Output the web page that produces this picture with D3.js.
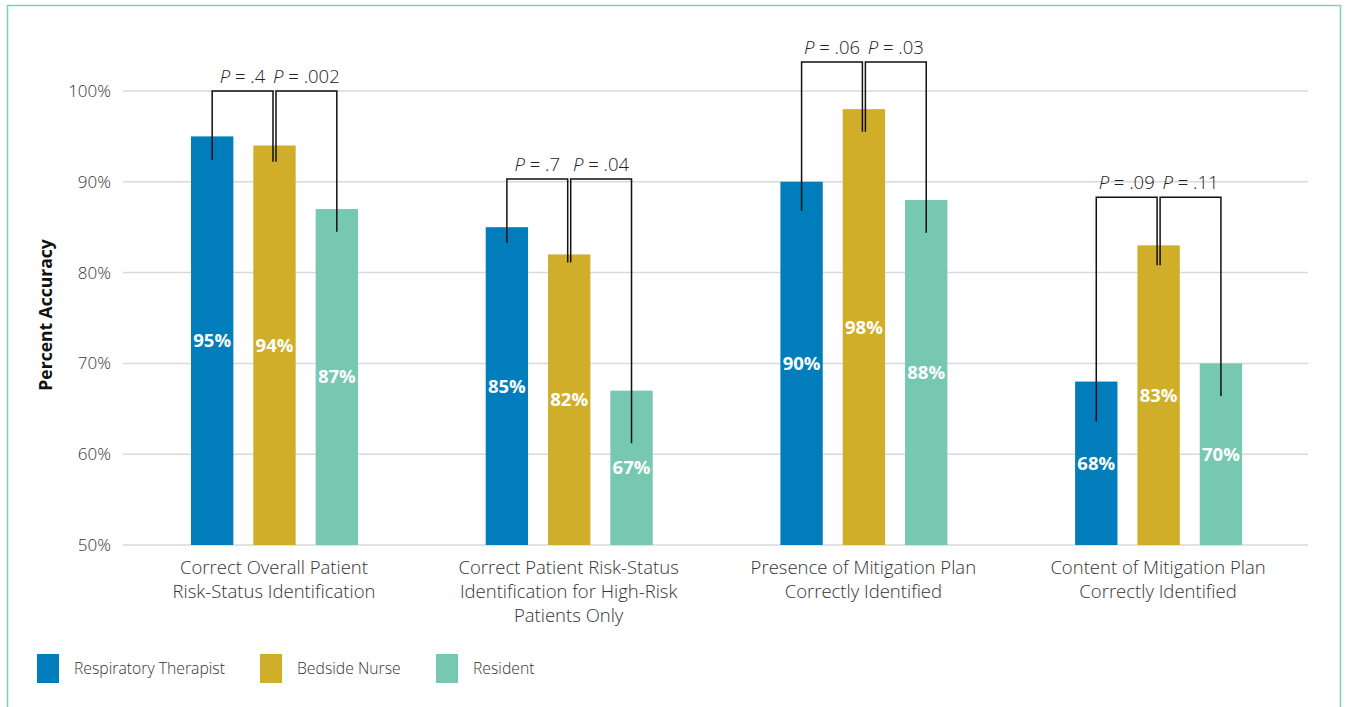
<!DOCTYPE html>
<html>
<head>
<meta charset="utf-8">
<script src="https://cdn.jsdelivr.net/npm/d3@7"></script>
<style>
  html, body { margin: 0; padding: 0; background: #fff; }
  svg { display: block; font-family: "Open Sans", "Noto Sans", sans-serif; }
</style>
</head>
<body>
<svg id="chart" width="1346" height="707"></svg>
<script>
// ---- data ----
const categories = [
  ["Correct Overall Patient", "Risk-Status Identification"],
  ["Correct Patient Risk-Status", "Identification for High-Risk", "Patients Only"],
  ["Presence of Mitigation Plan", "Correctly Identified"],
  ["Content of Mitigation Plan", "Correctly Identified"]
];
const seriesNames = ["Respiratory Therapist", "Bedside Nurse", "Resident"];
const respiratoryTherapist = [95, 85, 90, 68];
const bedsideNurse = [94, 82, 98, 83];
const resident = [87, 67, 88, 70];
const yTicks = [50, 60, 70, 80, 90, 100];
// P-value brackets: first compares RT vs Nurse, second Nurse vs Resident
const pFirst = [".4", ".7", ".06", ".09"];
const pSecond = [".002", ".04", ".03", ".11"];
const bracketTop = [100, 90.3, 103.2, 88.3];
const firstLegEnds = [[92.4, 92.2], [83.3, 81.1], [86.8, 95.5], [63.6, 80.8]];
const secondLegEnds = [[92.2, 84.5], [81.1, 61.2], [95.5, 84.4], [80.8, 66.4]];

const colors = ["#007dba", "#d1ae2a", "#76c8b0"];
const seriesValues = [respiratoryTherapist, bedsideNurse, resident];

const svg = d3.select("#chart");
const plotLeft = 123, plotRight = 1308, plotTop = 91, plotBottom = 545;
const FONT = "'Open Sans', 'Noto Sans', sans-serif";

// frame border
svg.append("path")
  .attr("d", `M7.5,720 V5.5 H1340.5 V720`)
  .attr("fill", "none").attr("stroke", "#7fd0b9").attr("stroke-width", 1.5);

const x0 = d3.scaleBand().domain(d3.range(categories.length)).range([126.6, 1305.4]).padding(0);
const x1 = d3.scaleBand().domain(d3.range(seriesNames.length))
  .range([64.4, 231.4]).paddingInner(20 / 62.4).paddingOuter(0);
const y = d3.scaleLinear().domain([50, 100]).range([plotBottom, plotTop]);

// grid lines
svg.append("g").selectAll("line").data(yTicks).join("line")
  .attr("x1", plotLeft).attr("x2", plotRight)
  .attr("y1", d => y(d)).attr("y2", d => y(d))
  .attr("stroke", "#d9d9d9").attr("stroke-width", 1.5);

// y axis labels
const yAxis = svg.append("g").attr("transform", `translate(${plotLeft},0)`)
  .call(d3.axisLeft(y).tickValues(yTicks).tickSize(0).tickPadding(12).tickFormat(d => d + "%"));
yAxis.select(".domain").remove();
yAxis.selectAll("text").attr("font-size", 17).attr("fill", "#333").attr("font-family", FONT).attr("font-weight", 300);

// y title
svg.append("text")
  .attr("transform", `translate(52,315) rotate(-90)`)
  .attr("text-anchor", "middle")
  .attr("font-size", 17.5).attr("font-weight", 700).attr("fill", "#111")
  .text("Percent Accuracy");

// bars
const groups = svg.append("g").selectAll("g").data(categories).join("g")
  .attr("transform", (d, i) => `translate(${x0(i)},0)`);

groups.each(function(cat, i) {
  const g = d3.select(this);
  seriesValues.forEach((vals, s) => {
    const v = vals[i];
    g.append("rect")
      .attr("x", x1(s)).attr("width", x1.bandwidth())
      .attr("y", y(v)).attr("height", y(50) - y(v))
      .attr("fill", colors[s]);
  });
});

// brackets
const bracketG = svg.append("g");
categories.forEach((cat, i) => {
  const cx = s => x0(i) + x1(s) + x1.bandwidth() / 2;
  const yt = y(bracketTop[i]);
  const off = 1.5;
  const a1 = cx(0), a2 = cx(1) - off;
  const b1 = cx(1) + off, b2 = cx(2);
  bracketG.append("path")
    .attr("d", `M${a1},${y(firstLegEnds[i][0])} V${yt} H${a2} V${y(firstLegEnds[i][1])}`)
    .attr("fill", "none").attr("stroke", "#111").attr("stroke-width", 1.5);
  bracketG.append("path")
    .attr("d", `M${b1},${y(secondLegEnds[i][0])} V${yt} H${b2} V${y(secondLegEnds[i][1])}`)
    .attr("fill", "none").attr("stroke", "#111").attr("stroke-width", 1.5);
  const addP = (xc, val) => {
    const t = bracketG.append("text")
      .attr("x", xc).attr("y", yt - 8)
      .attr("text-anchor", "middle")
      .attr("font-size", 18.5).attr("fill", "#222").attr("font-weight", 300);
    t.append("tspan").attr("font-style", "italic").text("P");
    t.append("tspan").text(" = " + val);
  };
  addP((a1 + a2) / 2, pFirst[i]);
  addP((b1 + b2) / 2, pSecond[i]);
});

// value labels
const labelG = svg.append("g");
categories.forEach((cat, i) => {
  seriesValues.forEach((vals, s) => {
    const v = vals[i];
    labelG.append("text")
      .attr("x", x0(i) + x1(s) + x1.bandwidth() / 2)
      .attr("y", (y(v) + y(50)) / 2)
      .attr("dy", "0.35em")
      .attr("text-anchor", "middle")
      .attr("font-size", 18.5).attr("font-weight", 700).attr("fill", "#fff")
      .text(v + "%");
  });
});

// x axis category labels
const xAxis = svg.append("g").attr("transform", `translate(0,${plotBottom})`)
  .call(d3.axisBottom(x0).tickSize(0).tickFormat(""));
xAxis.select(".domain").remove();
xAxis.selectAll(".tick").each(function(d) {
  const t = d3.select(this).append("text")
    .attr("text-anchor", "middle").attr("font-size", 18.5)
    .attr("fill", "#333").attr("font-weight", 300)
    .attr("font-family", FONT);
  categories[d].forEach((line, k) => {
    t.append("tspan").attr("x", 0).attr("y", 29 + k * 24).text(line);
  });
});

// legend
const legendX = [37, 260, 436];
const legend = svg.append("g").selectAll("g").data(seriesNames).join("g")
  .attr("transform", (d, i) => `translate(${legendX[i]},654)`);
legend.append("rect").attr("width", 22).attr("height", 29).attr("fill", (d, i) => colors[i]);
legend.append("text").attr("x", 37).attr("y", 20)
  .attr("font-size", 15.75).attr("fill", "#333").attr("font-weight", 300)
  .text(d => d);
</script>
</body>
</html>
